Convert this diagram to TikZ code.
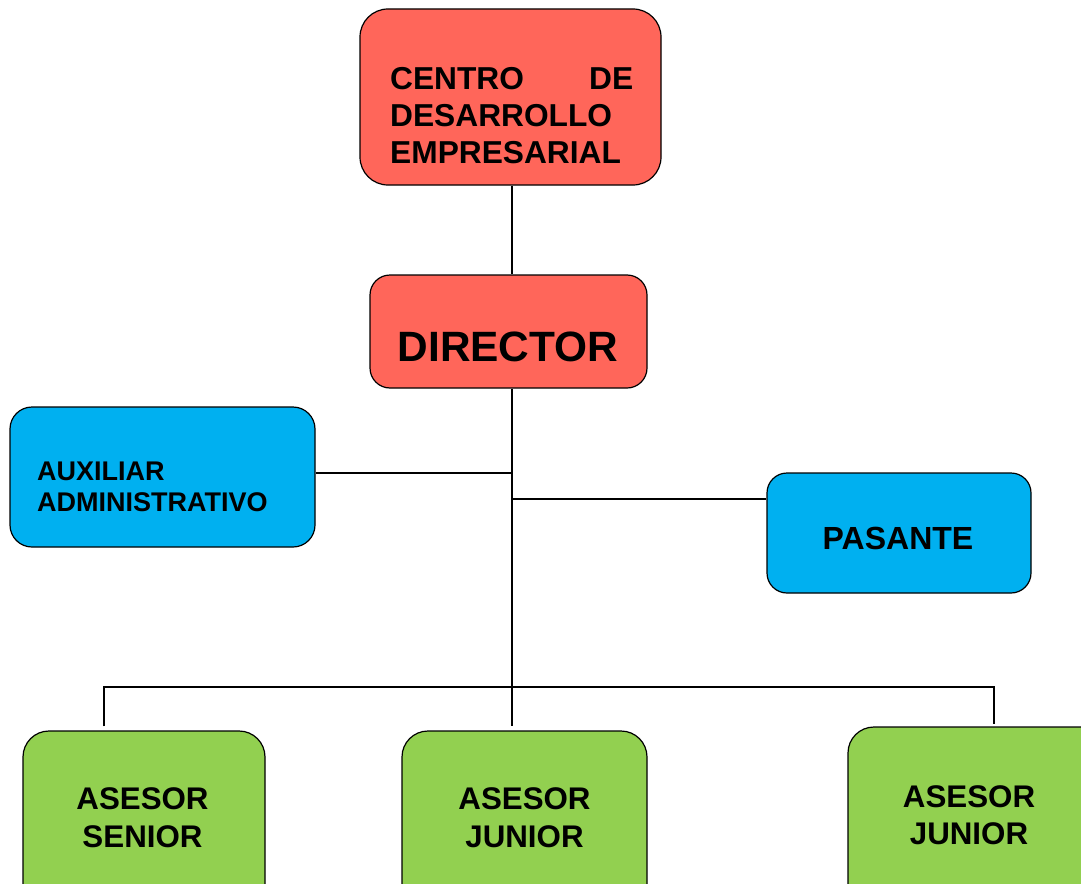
\documentclass[tikz,border=0pt]{standalone}
\usepackage{fontspec}
\setmainfont{Liberation Sans}
\usepackage{tikz}
\definecolor{boxred}{HTML}{FF665A}
\definecolor{boxblue}{HTML}{00B0F0}
\definecolor{boxgreen}{HTML}{92D050}

\begin{document}
\begin{tikzpicture}[x=1pt,y=-1pt]
    \tikzstyle unit=[draw=black,line width=1.2pt,inner sep=0pt,rectangle]
    \tikzstyle redunit=[unit,fill=boxred]
    \tikzstyle blueunit=[unit,fill=boxblue,rounded corners=22pt]
    \tikzstyle greenunit=[unit,fill=boxgreen,rounded corners=26pt]
    \tikzstyle link=[line width=1.5pt,black]
    \tikzstyle caption=[inner sep=0pt,font=\bfseries]
    \useasboundingbox (0,0) rectangle (1081,883);
    \clip (0,0) rectangle (1081,883);
    \node[redunit,rounded corners=28pt,minimum width=301pt,minimum height=176pt] (centro) at (510.5,97) {};
    \node[caption,anchor=north west,text width=243pt,align=left,
      font=\bfseries\fontsize{31.7}{37}\selectfont] (centrotxt) at (390,67)
      {CENTRO\hfill DE\\DESARROLLO\\EMPRESARIAL};
    \node[redunit,rounded corners=20pt,minimum width=277pt,minimum height=113pt] (director) at (508.5,331.5) {};
    \node[caption,anchor=north,font=\bfseries\fontsize{42.4}{48}\selectfont] (directortxt) at (508,332) {DIRECTOR};
    \node[blueunit,minimum width=305pt,minimum height=140pt] (auxiliar) at (162.5,477) {};
    \node[caption,anchor=north west,align=left,
      font=\bfseries\fontsize{27}{31}\selectfont] (auxiliartxt) at (37,462) {AUXILIAR\\ADMINISTRATIVO};
    \node[blueunit,rounded corners=20pt,minimum width=264pt,minimum height=120pt] (pasante) at (899,533) {};
    \node[caption,anchor=north,font=\bfseries\fontsize{32}{38}\selectfont] (pasantetxt) at (898,527) {PASANTE};
    \node[greenunit,minimum width=242pt,minimum height=220pt] (senior) at (144,841) {};
    \node[caption,anchor=north,align=center,
      font=\bfseries\fontsize{31.3}{38}\selectfont] (seniortxt) at (142.5,787) {ASESOR\\SENIOR};
    \node[greenunit,minimum width=245pt,minimum height=220pt] (juniora) at (524.5,841) {};
    \node[caption,anchor=north,align=center,
      font=\bfseries\fontsize{31.3}{38}\selectfont] (junioratxt) at (524.5,787) {ASESOR\\JUNIOR};
    \node[greenunit,minimum width=262pt,minimum height=223pt] (juniorb) at (979,838.5) {};
    \node[caption,anchor=north,align=center,
      font=\bfseries\fontsize{31.3}{37}\selectfont] (juniorbtxt) at (969,785) {ASESOR\\JUNIOR};
    \coordinate (hub) at (512,687);
    \coordinate (auxjoin) at (512,473);
    \coordinate (pasjoin) at (512,499);
    \coordinate (busleft) at (104,687);
    \coordinate (busright) at (994,687);
    \draw[link] (centro.south -| hub) -- (director.north -| hub);
    \draw[link,shorten >=4pt] (director.south -| hub) -- (juniora.north -| hub);
    \draw[link] (auxjoin) -- (auxjoin -| auxiliar.east);
    \draw[link] (pasjoin) -- (pasjoin -| pasante.west);
    \draw[link,shorten <=4pt,shorten >=2pt] (senior.north -| busleft) -- (busleft) -- (busright) -- (juniorb.north -| busright);
\end{tikzpicture}
\end{document}
